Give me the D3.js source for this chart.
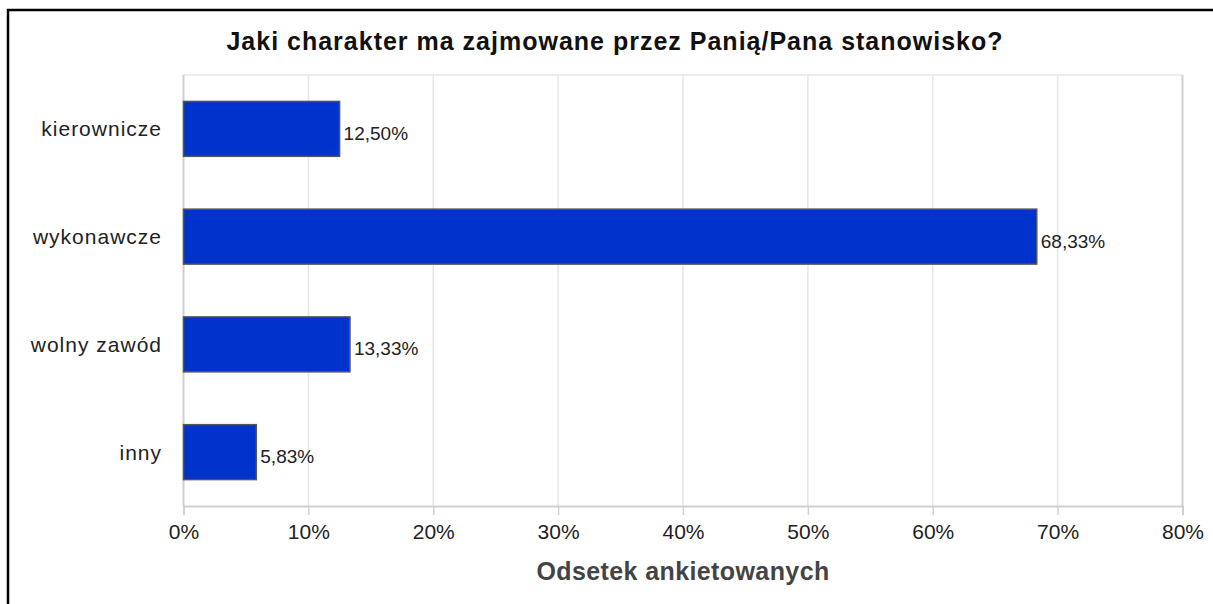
<!DOCTYPE html>
<html><head><meta charset="UTF-8">
<script src="https://d3js.org/d3.v7.min.js"></script>
<style>
  body { margin: 0; background: #fff; }
  svg text { font-family: "Liberation Sans", Arial, sans-serif; }
</style>
</head>
<body>
<div id="body"></div>
<script>

var categories = ["kierownicze", "wykonawcze", "wolny zawód", "inny"];
var values = [12.50, 68.33, 13.33, 5.83];
var ticks = [0, 10, 20, 30, 40, 50, 60, 70, 80];
var title = "Jaki charakter ma zajmowane przez Panią/Pana stanowisko?";
var xTitle = "Odsetek ankietowanych";

var w = 1213, h = 604,
    pLeft = 183.5, pRight = 1182.5,
    pTop = 75, pBottom = 506;

var fmt = function(v) { return d3.format(".2f")(v).replace(".", ",") + "%"; };

var svg = d3.select("#body").append("svg")
    .attr("width", w)
    .attr("height", h);

svg.append("rect")
    .attr("x", 8).attr("y", 10)
    .attr("width", w + 20).attr("height", h + 20)
    .attr("fill", "#fff")
    .attr("stroke", "#000")
    .attr("stroke-width", 2.5);

var x = d3.scaleLinear().domain([0, 80]).range([pLeft, pRight]);
var y = d3.scaleBand().domain(categories).range([pTop, pBottom])
    .paddingInner(0.49).paddingOuter(0.245);

// gridlines
svg.selectAll(".grid")
    .data(ticks.slice(1, -1))
    .enter().append("line")
    .attr("x1", function(d) { return x(d); })
    .attr("x2", function(d) { return x(d); })
    .attr("y1", pTop).attr("y2", pBottom)
    .attr("stroke", "#e6e6e6")
    .attr("stroke-width", 1.5);

// plot frame
svg.append("line").attr("x1", pLeft).attr("x2", pRight).attr("y1", pTop).attr("y2", pTop)
    .attr("stroke", "#e6e6e6").attr("stroke-width", 1.5);
svg.append("line").attr("x1", pRight).attr("x2", pRight).attr("y1", pTop).attr("y2", pBottom)
    .attr("stroke", "#d0d0d0").attr("stroke-width", 2);
svg.append("line").attr("x1", pLeft).attr("x2", pLeft).attr("y1", pTop).attr("y2", pBottom)
    .attr("stroke", "#cfcfcf").attr("stroke-width", 2);

// x axis
var xAxis = svg.append("g")
    .attr("transform", "translate(0," + pBottom + ")")
    .call(d3.axisBottom(x).tickValues(ticks)
        .tickFormat(function(d) { return d + "%"; })
        .tickSize(9).tickPadding(9));
xAxis.select(".domain").attr("stroke", "#d0d0d0").attr("stroke-width", 2);
xAxis.selectAll(".tick line").attr("stroke", "#d0d0d0").attr("stroke-width", 1.5);
xAxis.selectAll(".tick text")
    .attr("font-family", "'Liberation Sans', Arial, sans-serif")
    .attr("font-size", 21)
    .attr("fill", "#222");

// y labels
svg.selectAll(".cat")
    .data(categories)
    .enter().append("text")
    .attr("x", 162)
    .attr("y", function(d) { return y(d) + y.bandwidth() / 2 + 7.5; })
    .attr("text-anchor", "end")
    .attr("font-size", 21)
    .attr("letter-spacing", 1)
    .attr("fill", "#222")
    .text(function(d) { return d; });

// bars
svg.selectAll(".bar")
    .data(values)
    .enter().append("rect")
    .attr("x", x(0))
    .attr("y", function(d, i) { return y(categories[i]); })
    .attr("width", function(d) { return x(d) - x(0); })
    .attr("height", y.bandwidth())
    .attr("fill", "#0033cc")
    .attr("stroke", "#555")
    .attr("stroke-width", 1.5);

// value labels
svg.selectAll(".val")
    .data(values)
    .enter().append("text")
    .attr("x", function(d) { return x(d) + 4; })
    .attr("y", function(d, i) { return y(categories[i]) + y.bandwidth() / 2 + 11; })
    .attr("font-size", 19)
    .attr("fill", "#222")
    .text(function(d) { return fmt(d); });

// titles
svg.append("text")
    .attr("x", 615).attr("y", 50)
    .attr("text-anchor", "middle")
    .attr("font-size", 25)
    .attr("font-weight", "bold")
    .attr("letter-spacing", 1)
    .attr("fill", "#111")
    .text(title);

svg.append("text")
    .attr("x", (pLeft + pRight) / 2).attr("y", 580)
    .attr("text-anchor", "middle")
    .attr("font-size", 25)
    .attr("font-weight", "bold")
    .attr("letter-spacing", 0.4)
    .attr("fill", "#444")
    .text(xTitle);

</script>
</body></html>
